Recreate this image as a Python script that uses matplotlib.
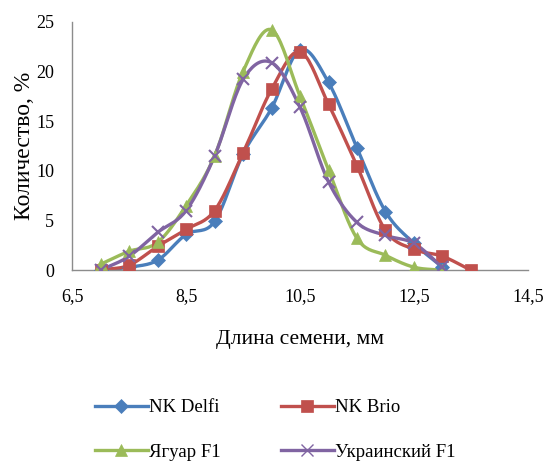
import numpy as np
import matplotlib
matplotlib.use('Agg')
import matplotlib.pyplot as plt
from matplotlib.ticker import FuncFormatter

plt.rcParams['font.family'] = ['Liberation Serif', 'DejaVu Serif']

# Seed length, mm
x_delfi = [7, 7.5, 8, 8.5, 9, 9.5, 10, 10.5, 11, 11.5, 12, 12.5, 13]
delfi = [0, 0.3, 1.0, 3.6, 4.9, 11.7, 16.3, 22.2, 18.9, 12.3, 5.9, 2.7, 0.3]

x_brio = [7, 7.5, 8, 8.5, 9, 9.5, 10, 10.5, 11, 11.5, 12, 12.5, 13, 13.5]
brio = [0, 0.5, 2.4, 4.1, 6.0, 11.8, 18.2, 22.0, 16.7, 10.5, 4.0, 2.1, 1.4, 0]

x_jaguar = [7, 7.5, 8, 8.5, 9, 9.5, 10, 10.5, 11, 11.5, 12, 12.5, 13]
jaguar = [0.6, 1.9, 2.8, 6.5, 11.5, 20.0, 24.2, 17.5, 10.1, 3.2, 1.5, 0.3, 0]

x_ukr = [7, 7.5, 8, 8.5, 9, 9.5, 10, 10.5, 11, 11.5, 12, 12.5, 13]
ukr = [0, 1.4, 3.8, 6.0, 11.5, 19.2, 20.9, 16.4, 8.9, 4.8, 3.5, 2.7, 0.3]

labels = ['NK Delfi', 'NK Brio', 'Ягуар F1', 'Украинский F1']


def smooth(x, y, n=20):
    # Catmull-Rom style smoothing, like Excel's "smoothed line"
    x = np.asarray(x, float)
    y = np.asarray(y, float)
    px = np.concatenate([[2 * x[0] - x[1]], x, [2 * x[-1] - x[-2]]])
    py = np.concatenate([[2 * y[0] - y[1]], y, [2 * y[-1] - y[-2]]])
    xs, ys = [], []
    t = np.linspace(0, 1, n)
    for i in range(1, len(px) - 2):
        for arr, out in ((px, xs), (py, ys)):
            p0, p1, p2, p3 = arr[i - 1], arr[i], arr[i + 1], arr[i + 2]
            out.extend(0.5 * (2 * p1 + (-p0 + p2) * t
                              + (2 * p0 - 5 * p1 + 4 * p2 - p3) * t ** 2
                              + (-p0 + 3 * p1 - 3 * p2 + p3) * t ** 3))
    return np.array(xs), np.array(ys)


fig = plt.figure(figsize=(5.47, 4.65), dpi=100)
ax = fig.add_axes([0.132, 0.419, 0.833, 0.534])

series = [
    (x_delfi, delfi, '#4A7EBB', 'D', 7),
    (x_brio, brio, '#C0504D', 's', 8),
    (x_jaguar, jaguar, '#9BBB59', '^', 8),
    (x_ukr, ukr, '#8064A2', 'x', 8),
]

handles = []
for (xs, ys, c, m, ms), lab in zip(series, labels):
    sx, sy = smooth(xs, ys)
    ax.plot(sx, sy, color=c, linewidth=2.4, zorder=2)
    ax.plot(xs, ys, linestyle='none', marker=m, markersize=ms, color=c,
            markeredgewidth=1.5 if m == 'x' else 0.5, zorder=3)
    h, = ax.plot([], [], color=c, linewidth=2.4, marker=m, markersize=ms,
                 markeredgewidth=1.0 if m == 'x' else 0.5, label=lab)
    handles.append(h)

ax.set_xlim(6.5, 14.5)
ax.set_ylim(0, 25)
ax.set_xticks([6.5, 8.5, 10.5, 12.5, 14.5])
ax.set_yticks([0, 5, 10, 15, 20, 25])
ax.xaxis.set_major_formatter(FuncFormatter(lambda v, p: f'{v:.1f}'.replace('.', ',')))
ax.tick_params(length=0, labelsize=13)
ax.tick_params(axis='x', pad=13)
ax.tick_params(axis='y', pad=13)
for s in ['top', 'right']:
    ax.spines[s].set_visible(False)
for s in ['left', 'bottom']:
    ax.spines[s].set_color('#8C8C8C')
    ax.spines[s].set_linewidth(1.0)

ax.set_xlabel('Длина семени, мм', fontsize=15.5, labelpad=18)
ax.set_ylabel('Количество, %', fontsize=17, labelpad=1)

# legend filled column-wise: reorder so rows read Delfi/Brio, Ягуар/Украинский
order = [0, 2, 1, 3]
fig.legend(handles=[handles[i] for i in order], labels=[labels[i] for i in order],
           loc='center left', bbox_to_anchor=(95 / 547, 1 - 430 / 465), ncol=2,
           frameon=False, fontsize=13.5, handlelength=2.8, handletextpad=0.1,
           columnspacing=3.2, labelspacing=1.45, borderpad=0, borderaxespad=0)

plt.savefig('out.png', dpi=100)
